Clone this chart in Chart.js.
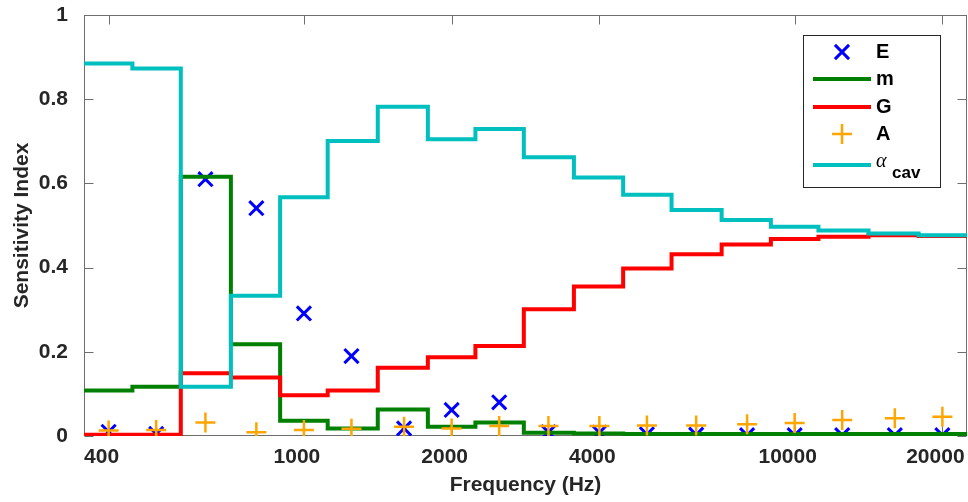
<!DOCTYPE html>
<html><head><meta charset="utf-8">
<script src="https://cdn.jsdelivr.net/npm/chart.js@4.4.0/dist/chart.umd.min.js"></script>
<style>html,body{margin:0;padding:0;background:#fff;} canvas{display:block;}</style>
</head><body>
<canvas id="c" width="968" height="502"></canvas>
<script>
// ---- data ----
const bandCenters = [400, 500, 630, 800, 1000, 1250, 1600, 2000, 2500, 3150, 4000, 5000, 6300, 8000, 10000, 12500, 16000, 20000];
const xTickValues = [400, 1000, 2000, 4000, 10000, 20000];
const seriesE   = [0.010, 0.005, 0.610, 0.541, 0.291, 0.190, 0.018, 0.062, 0.080, 0.009, 0.008, 0.004, 0.003, 0.002, 0.002, 0.002, 0.002, 0.002];
const seriesM   = [0.108, 0.117, 0.616, 0.218, 0.036, 0.018, 0.063, 0.022, 0.032, 0.008, 0.006, 0.005, 0.005, 0.005, 0.005, 0.005, 0.005, 0.005];
const seriesG   = [0.003, 0.003, 0.149, 0.139, 0.097, 0.108, 0.162, 0.187, 0.214, 0.301, 0.355, 0.398, 0.432, 0.455, 0.468, 0.473, 0.477, 0.475];
const seriesA   = [0.013, 0.014, 0.032, 0.009, 0.014, 0.017, 0.022, 0.018, 0.024, 0.024, 0.024, 0.025, 0.025, 0.028, 0.031, 0.038, 0.042, 0.046];
const seriesCav = [0.885, 0.873, 0.117, 0.333, 0.567, 0.701, 0.782, 0.705, 0.729, 0.662, 0.614, 0.573, 0.537, 0.513, 0.497, 0.488, 0.481, 0.477];

const FONT = '"Liberation Sans", Arial, Helvetica, sans-serif';
const TXT = '#262626';

// band edges (third-octave) derived from the centers
const lo = bandCenters.map((c, i) => i === 0 ? c / Math.pow(2, 1/6) : Math.sqrt(bandCenters[i-1] * c));
const hiLast = bandCenters[bandCenters.length - 1] * Math.pow(2, 1/6);
function stepData(vals) {
  const d = vals.map((v, i) => ({x: lo[i], y: v}));
  d.push({x: hiLast, y: vals[vals.length - 1]});
  return d;
}
function pointData(vals) { return vals.map((v, i) => ({x: bandCenters[i], y: v})); }

const framePlugin = {
  id: 'frame',
  beforeDatasetsDraw(chart) {
    const {ctx, chartArea: a, scales: {x, y}} = chart;
    ctx.save();
    ctx.strokeStyle = '#6e6e6e';
    ctx.lineWidth = 1;
    const L = Math.round(a.left) + 0.5, R = Math.round(a.right) - 0.5;
    const T = Math.round(a.top) + 0.5, B = Math.round(a.bottom) - 0.5;
    ctx.strokeRect(L, T, R - L, B - T);
    const tl = 9;
    ctx.beginPath();
    xTickValues.forEach(v => {
      const px = Math.round(x.getPixelForValue(v)) + 0.5;
      ctx.moveTo(px, B); ctx.lineTo(px, B - tl);
      ctx.moveTo(px, T); ctx.lineTo(px, T + tl);
    });
    y.ticks.forEach(t => {
      const py = Math.round(y.getPixelForValue(t.value)) + 0.5;
      ctx.moveTo(L, py); ctx.lineTo(L + tl, py);
      ctx.moveTo(R, py); ctx.lineTo(R - tl, py);
    });
    ctx.stroke();
    // x tick labels (positioned by the library's log scale)
    ctx.fillStyle = TXT;
    ctx.font = 'bold 21px ' + FONT;
    ctx.textAlign = 'center';
    ctx.textBaseline = 'middle';
    xTickValues.forEach(v => {
      ctx.fillText(String(v), x.getPixelForValue(v) - 7, a.bottom + 21);
    });
    ctx.restore();
  }
};

const legendPlugin = {
  id: 'matlabLegend',
  afterDraw(chart) {
    const {ctx, chartArea: a} = chart;
    const bx = Math.round(a.right) - 164, by = Math.round(a.top) + 20, bw = 137, bh = 152;
    ctx.save();
    ctx.fillStyle = '#fff';
    ctx.fillRect(bx, by, bw, bh);
    ctx.strokeStyle = '#262626';
    ctx.lineWidth = 1;
    ctx.strokeRect(bx + 0.5, by + 0.5, bw, bh);
    const rows = [17, 44, 72, 99, 130];
    const ds = chart.data.datasets;
    const textX = bx + 73;
    ds.forEach((d, k) => {
      const ry = by + rows[k];
      if (d.showLine === false) {
        ctx.strokeStyle = d.borderColor;
        ctx.lineWidth = d.pointBorderWidth;
        Chart.helpers.drawPoint(ctx, {pointStyle: d.pointStyle, radius: d.pointRadius, rotation: 0, borderWidth: d.pointBorderWidth}, bx + 39, ry);
      } else {
        ctx.strokeStyle = d.borderColor;
        ctx.lineWidth = d.borderWidth;
        ctx.beginPath();
        ctx.moveTo(bx + 10, ry); ctx.lineTo(bx + 68, ry);
        ctx.stroke();
      }
      ctx.fillStyle = '#000';
      ctx.textBaseline = 'middle';
      ctx.textAlign = 'left';
      if (d.legendMain) {
        ctx.font = 'italic 20px "Liberation Serif", "DejaVu Serif", serif';
        ctx.fillText(d.legendMain, textX, ry - 3);
        ctx.font = 'bold 17px ' + FONT;
        ctx.fillText(d.legendSub, textX + 16, ry + 8);
      } else {
        ctx.font = 'bold 20px ' + FONT;
        ctx.fillText(d.label, textX, ry);
      }
    });
    ctx.restore();
  }
};

new Chart(document.getElementById('c'), {
  type: 'line',
  data: {
    datasets: [
      {label: 'E', data: pointData(seriesE), showLine: false, pointStyle: 'crossRot', pointRadius: 10,
       borderColor: '#0000ff', backgroundColor: '#0000ff', pointBorderWidth: 3, borderWidth: 3, order: 5},
      {label: 'm', data: stepData(seriesM), stepped: 'before', borderColor: '#008000', backgroundColor: '#008000',
       borderWidth: 4, pointRadius: 0, order: 4},
      {label: 'G', data: stepData(seriesG), stepped: 'before', borderColor: '#ff0000', backgroundColor: '#ff0000',
       borderWidth: 4, pointRadius: 0, order: 3},
      {label: 'A', data: pointData(seriesA), showLine: false, pointStyle: 'cross', pointRadius: 10,
       borderColor: '#ffa500', backgroundColor: '#ffa500', pointBorderWidth: 2.5, borderWidth: 2.5, order: 2},
      {label: 'α cav', legendMain: 'α', legendSub: 'cav', data: stepData(seriesCav), stepped: 'before',
       borderColor: '#00bfbf', backgroundColor: '#00bfbf', borderWidth: 4, pointRadius: 0, order: 1}
    ]
  },
  options: {
    responsive: false,
    animation: false,
    events: [],
    layout: {autoPadding: false, padding: {top: 15, right: 1, left: 0, bottom: 0}},
    plugins: {legend: {display: false}, tooltip: {enabled: false}},
    scales: {
      x: {
        type: 'logarithmic',
        min: lo[0], max: hiLast,
        grid: {display: false}, border: {display: false},
        afterBuildTicks: s => { s.ticks = xTickValues.map(v => ({value: v})); },
        afterFit: s => { s.height = 66; s.paddingLeft = 0; s.paddingRight = 0; },
        ticks: {display: false},
        title: {display: true, text: 'Frequency (Hz)', color: TXT, padding: {top: 0, bottom: 4},
                font: {family: FONT, size: 21, weight: 'bold'}}
      },
      y: {
        min: 0, max: 1,
        grid: {display: false}, border: {display: false},
        afterFit: s => { s.width = 84; s.paddingTop = 0; s.paddingBottom = 0; },
        ticks: {stepSize: 0.2, padding: 8, color: TXT, font: {family: FONT, size: 21, weight: 'bold'},
                callback: v => String(Math.round(v * 10) / 10)},
        title: {display: true, text: 'Sensitivity Index', color: TXT, padding: {top: 10, bottom: 0},
                font: {family: FONT, size: 21, weight: 'bold'}}
      }
    }
  },
  plugins: [framePlugin, legendPlugin]
});
</script></body></html>
